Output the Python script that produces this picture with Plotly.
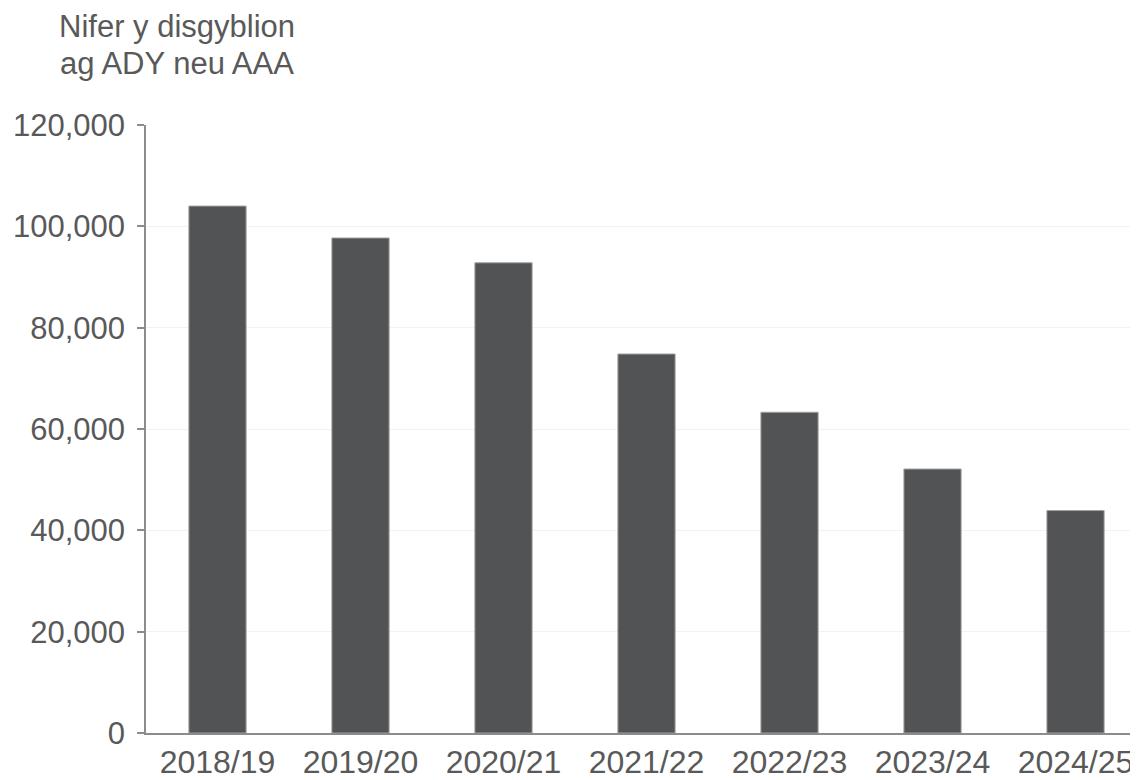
import plotly.graph_objects as go

categories = ["2018/19", "2019/20", "2020/21", "2021/22", "2022/23", "2023/24", "2024/25"]
values = [104000, 97700, 92800, 74800, 63300, 52100, 43900]
y_ticks = [0, 20000, 40000, 60000, 80000, 100000, 120000]
y_tick_labels = ["0", "20,000", "40,000", "60,000", "80,000", "100,000", "120,000"]
y_title_lines = ["Nifer y disgyblion", "ag ADY neu AAA"]

text_color = "#595959"
font_family = "Liberation Sans, Arial, sans-serif"

# page body has an 8px margin; compensate so the figure fills the 1138x780 window
W, H = 1130, 772
ML, MT, MB, MR = 138, 117, 47, 0
plot_w = W - ML - MR

fig = go.Figure()
fig.add_trace(go.Bar(
    x=categories,
    y=values,
    width=0.4,
    marker=dict(color="#525355", line=dict(color="#a0a0a0", width=1)),
))

annotations = []
for i, line in enumerate(y_title_lines):
    annotations.append(dict(
        text=line,
        xref="paper", yref="paper",
        x=(177 - 8 - ML) / plot_w, y=1.0,
        xanchor="center", yanchor="middle",
        yshift=[99, 62][i],
        showarrow=False,
        font=dict(size=31, color=text_color, family=font_family),
    ))

fig.update_layout(
    width=W,
    height=H,
    margin=dict(l=ML, r=MR, t=MT, b=MB, pad=0),
    paper_bgcolor="white",
    plot_bgcolor="white",
    showlegend=False,
    font=dict(family=font_family, color=text_color, size=32),
    xaxis=dict(
        type="category",
        range=[-0.5, 6.437],
        showline=True,
        linecolor="#8c8c8c",
        linewidth=1.5,
        ticks="",
        showgrid=False,
        tickfont=dict(size=32, color=text_color),
    ),
    yaxis=dict(
        range=[0, 120000],
        tickvals=y_ticks,
        ticktext=y_tick_labels,
        showline=True,
        linecolor="#8c8c8c",
        linewidth=1.5,
        ticks="outside",
        ticklen=7,
        tickcolor="#8c8c8c",
        tickwidth=1.5,
        ticklabelstandoff=6,
        showgrid=True,
        gridcolor="#f2f2f2",
        gridwidth=1,
        zeroline=False,
        tickfont=dict(size=31, color=text_color),
    ),
    annotations=annotations,
)

fig.write_html("out.html")
